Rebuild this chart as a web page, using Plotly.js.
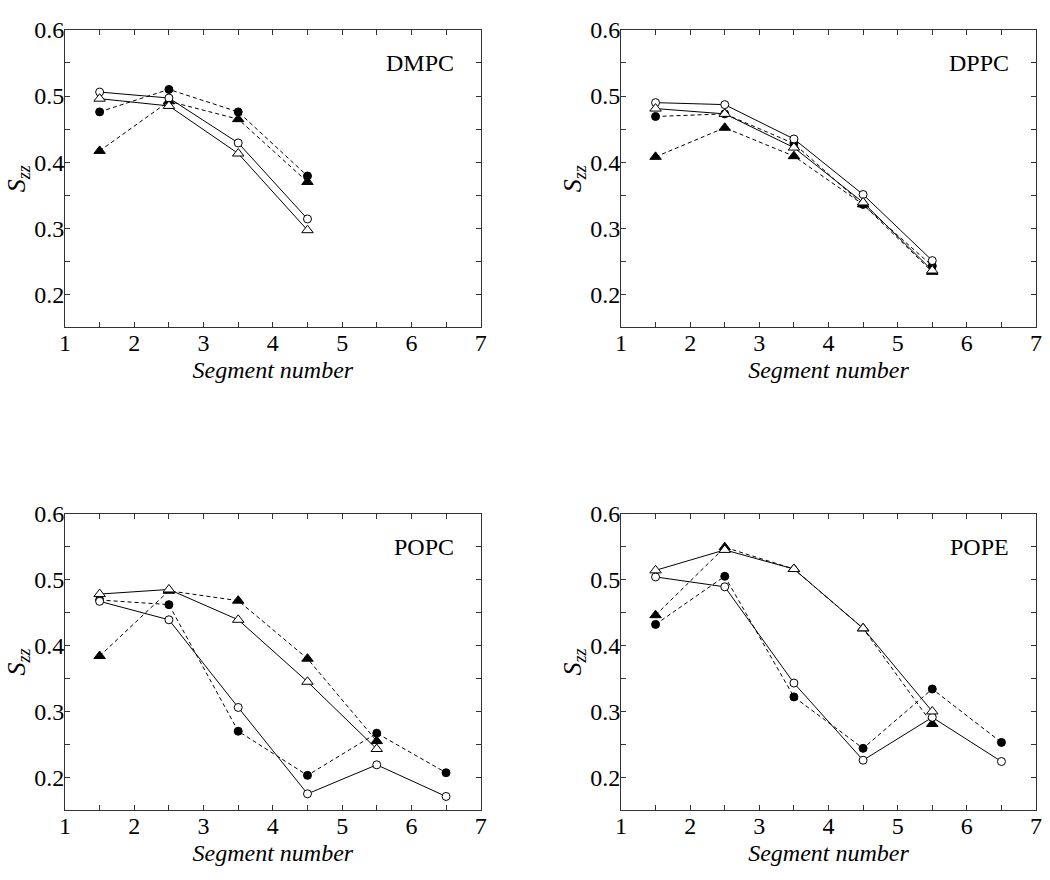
<!DOCTYPE html>
<html><head><meta charset="utf-8">
<script src="https://cdn.plot.ly/plotly-3.0.1.min.js"></script>
<style>body{margin:0;background:#fff}#c{width:1050px;height:880px}</style>
</head><body><div id="c"></div>
<script>
const panels = ["DMPC", "DPPC", "POPC", "POPE"];
const segments = [1.5, 2.5, 3.5, 4.5, 5.5, 6.5];

// open circles, solid line
const dmpcOpenCircle = [0.506, 0.497, 0.429, 0.314];
const dppcOpenCircle = [0.490, 0.487, 0.435, 0.351, 0.251];
const popcOpenCircle = [0.467, 0.439, 0.306, 0.175, 0.219, 0.171];
const popeOpenCircle = [0.504, 0.489, 0.343, 0.226, 0.291, 0.224];
// open triangles, solid line
const dmpcOpenTri = [0.496, 0.485, 0.413, 0.297];
const dppcOpenTri = [0.481, 0.473, 0.422, 0.339, 0.236];
const popcOpenTri = [0.478, 0.485, 0.439, 0.345, 0.243];
const popeOpenTri = [0.514, 0.545, 0.516, 0.426, 0.300];
// filled circles, dashed line
const dmpcFilledCircle = [0.476, 0.510, 0.476, 0.379];
const dppcFilledCircle = [0.469, 0.473, 0.428, 0.336, 0.243];
const popcFilledCircle = [0.469, 0.462, 0.270, 0.203, 0.267, 0.207];
const popeFilledCircle = [0.432, 0.505, 0.322, 0.244, 0.334, 0.253];
// filled triangles, dashed line
const dmpcFilledTri = [0.417, 0.492, 0.465, 0.370];
const dppcFilledTri = [0.408, 0.452, 0.409, 0.336, 0.234];
const popcFilledTri = [0.384, 0.483, 0.468, 0.380, 0.255];
const popeFilledTri = [0.446, 0.549, 0.516, 0.426, 0.281];

const xTicks = [1, 2, 3, 4, 5, 6, 7];
const yTicks = [0.2, 0.3, 0.4, 0.5, 0.6];

const data = [
  [dmpcOpenCircle, dmpcOpenTri, dmpcFilledCircle, dmpcFilledTri],
  [dppcOpenCircle, dppcOpenTri, dppcFilledCircle, dppcFilledTri],
  [popcOpenCircle, popcOpenTri, popcFilledCircle, popcFilledTri],
  [popeOpenCircle, popeOpenTri, popeFilledCircle, popeFilledTri]
];
const styles = [
  {symbol: "circle-open", dash: "solid", size: 8},
  {symbol: "triangle-up-open", dash: "solid", size: 10},
  {symbol: "circle", dash: "4px,3px", size: 8},
  {symbol: "triangle-up", dash: "4px,3px", size: 10}
];

const traces = [];
const axIds = ["", "2", "3", "4"];
data.forEach((series, p) => {
  [2, 3, 0, 1].forEach(s => {
    const y = series[s];
    const st = styles[s];
    const open = st.symbol.includes("open");
    traces.push({
      x: segments.slice(0, y.length), y: y,
      xaxis: "x" + axIds[p], yaxis: "y" + axIds[p],
      type: "scatter", mode: "lines",
      line: {color: "#000", width: 1, dash: st.dash},
      showlegend: false, hoverinfo: "skip"
    });
    traces.push({
      x: segments.slice(0, y.length), y: y,
      xaxis: "x" + axIds[p], yaxis: "y" + axIds[p],
      type: "scatter", mode: "markers",
      marker: {symbol: st.symbol.replace("-open", ""), size: st.size,
               color: open ? "#fff" : "#000", line: {color: "#000", width: 1}},
      showlegend: false, hoverinfo: "skip"
    });
  });
});

const FAM = "'Liberation Serif', 'Times New Roman', Times, serif";
function F(sz) { return {family: FAM, color: "#000", size: sz}; }
const xDom = [[0.0619, 0.4578], [0.5914, 0.9867]];
const yDom = [[0.628, 0.966], [0.0792, 0.4163]];

function xa(d, anchor) {
  return {domain: d, anchor: anchor, range: [1, 7], tickmode: "array", tickvals: xTicks, ticktext: xTicks.map(String),
    ticks: "inside", ticklen: 5, tickcolor: "#333", mirror: "allticks", showline: true, linecolor: "#333",
    linewidth: 1, showgrid: false, zeroline: false, tickfont: F(24), ticklabelstandoff: -6,
    minor: {tickmode: "linear", dtick: 0.5, tick0: 1, ticks: "inside", ticklen: 5, tickcolor: "#333", showgrid: false},
    title: {text: "<i>Segment number</i>", font: F(24), standoff: 6}};
}
function ya(d, anchor) {
  return {domain: d, anchor: anchor, range: [0.15, 0.6], tickmode: "array", tickvals: yTicks, ticktext: yTicks.map(v => v.toFixed(1)),
    ticks: "inside", ticklen: 5, tickcolor: "#333", mirror: "allticks", showline: true, linecolor: "#333",
    linewidth: 1, showgrid: false, zeroline: false, tickfont: F(24), ticklabelstandoff: -5,
    minor: {tickmode: "linear", dtick: 0.05, tick0: 0.15, ticks: "inside", ticklen: 5, tickcolor: "#333", showgrid: false},
    title: {text: "<i>S</i><sub><i>zz</i></sub>", font: F(26), standoff: 0}};
}

const layout = {
  width: 1050, height: 880, margin: {l: 0, r: 0, t: 0, b: 0},
  paper_bgcolor: "#fff", plot_bgcolor: "#fff", showlegend: false,
  font: F(24),
  xaxis: xa(xDom[0], "y"), yaxis: ya(yDom[0], "x"),
  xaxis2: xa(xDom[1], "y2"), yaxis2: ya(yDom[0], "x2"),
  xaxis3: xa(xDom[0], "y3"), yaxis3: ya(yDom[1], "x3"),
  xaxis4: xa(xDom[1], "y4"), yaxis4: ya(yDom[1], "x4"),
  annotations: panels.map((name, i) => ({
    text: name, xref: "x" + axIds[i], yref: "y" + axIds[i], x: 6.64, y: 0.55,
    xanchor: "right", yanchor: "middle", showarrow: false, font: F(24)
  }))
};

Plotly.newPlot("c", traces, layout, {staticPlot: true});
</script></body></html>
